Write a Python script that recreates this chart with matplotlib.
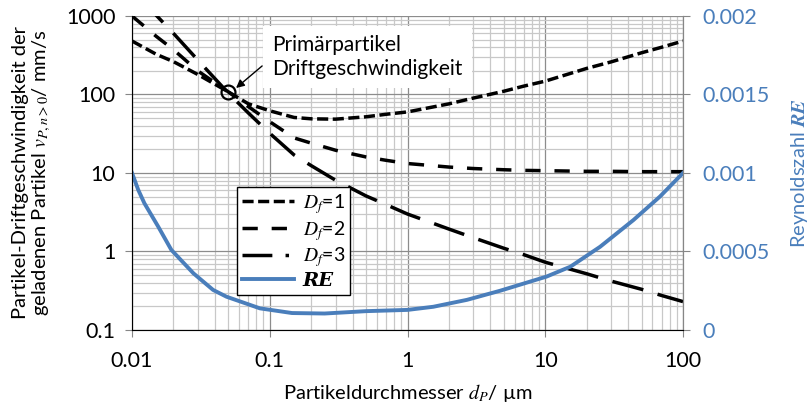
import matplotlib
matplotlib.use("Agg")
import matplotlib.pyplot as plt
from matplotlib.lines import Line2D
from matplotlib.ticker import FixedLocator, LogLocator, FuncFormatter, NullFormatter

plt.rcParams["font.family"] = ["Lato", "DejaVu Sans"]
plt.rcParams["mathtext.fontset"] = "stix"

# Partikeldurchmesser in µm
d_p = [0.01, 0.015, 0.02, 0.03, 0.05, 0.07, 0.1, 0.15, 0.2, 0.3, 0.5, 0.7,
       1, 2, 3, 5, 7, 10, 20, 30, 50, 70, 100]

# Driftgeschwindigkeit in mm/s fuer verschiedene fraktale Dimensionen
v_df1 = [480, 325, 262, 180, 108, 76, 62, 51, 49, 48.5, 52, 56,
         60, 76, 90, 110, 128, 148, 215, 260, 340, 400, 480]
v_df2 = [1000, 550, 372, 200, 108, 70, 45, 28, 24, 19.5, 16, 14.5,
         13.2, 11.9, 11.4, 11.0, 10.8, 10.7, 10.5, 10.5, 10.4, 10.4, 10.4]
v_df3 = [2200, 1020, 600, 275, 104, 58, 32, 17, 12.4, 8.1, 5.1, 3.95,
         3.0, 1.93, 1.5, 1.1, 0.91, 0.73, 0.52, 0.42, 0.33, 0.275, 0.23]

# Reynoldszahl
d_re = [0.01, 0.0111, 0.0123, 0.0155, 0.0193, 0.0279, 0.0388, 0.0485,
        0.0847, 0.145, 0.25, 0.5, 1.0, 1.54, 2.7, 4.7, 10.2, 15.2, 25,
        43.6, 68, 100]
re = [0.001, 0.000892, 0.000807, 0.000658, 0.00051, 0.000361, 0.000255,
      0.000212, 0.000138, 0.000108, 0.000105, 0.00012, 0.000128, 0.000148,
      0.000192, 0.00025, 0.00034, 0.000403, 0.00053, 0.0007, 0.00085,
      0.001]

# Primaerpartikel
d_primary = 0.05
v_primary = 108

x_ticks = [0.01, 0.1, 1, 10, 100]
y_ticks = [0.1, 1, 10, 100, 1000]
re_ticks = [0, 0.0005, 0.001, 0.0015, 0.002]

blue = "#4a7ebb"
grey = "#868686"
fs_tick = 15.5
fs_label = 14.5

fig = plt.figure(figsize=(8.11, 4.07), dpi=100)
ax = fig.add_axes([0.1628, 0.1892, 0.6794, 0.7715])

ax.set_xscale("log")
ax.set_yscale("log")
ax.set_xlim(0.01, 100)
ax.set_ylim(0.1, 1000)

lw = 2.5
l1, = ax.plot(d_p, v_df1, color="black", lw=lw, dashes=(3.2, 1.3),
              label=r"$D_f$=1")
l2, = ax.plot(d_p, v_df2, color="black", lw=lw, dashes=(4.4, 4.0),
              label=r"$D_f$=2")
ax.plot(d_p, v_df3, color="black", lw=lw, dashes=(9.2, 4.3))
# Legendensymbol fuer D_f=3 als Strich-Punkt
l3 = Line2D([], [], color="black", lw=lw, dashes=(8.6, 3.8, 1.0, 2.0),
            label=r"$D_f$=3")
ax.plot([d_primary], [v_primary], marker="o", ms=10, mfc="none",
        mec="black", mew=1.6, zorder=5)

ax.xaxis.set_major_locator(FixedLocator(x_ticks))
ax.yaxis.set_major_locator(FixedLocator(y_ticks))
ax.xaxis.set_minor_locator(LogLocator(base=10, subs=range(2, 10)))
ax.yaxis.set_minor_locator(LogLocator(base=10, subs=range(2, 10)))
ax.xaxis.set_major_formatter(FuncFormatter(lambda v, p: "%g" % v))
ax.yaxis.set_major_formatter(FuncFormatter(lambda v, p: "%g" % v))
ax.xaxis.set_minor_formatter(NullFormatter())
ax.yaxis.set_minor_formatter(NullFormatter())

ax.grid(True, which="major", color="#8c8c8c", lw=0.9)
ax.grid(True, which="minor", color="#c8c8c8", lw=0.9)
ax.set_axisbelow(True)

for s in ["left", "bottom", "right"]:
    ax.spines[s].set_color(grey)
ax.spines["top"].set_visible(False)
ax.tick_params(which="major", direction="out", length=5, color=grey,
               labelsize=fs_tick, pad=7)
ax.tick_params(which="minor", length=0)
ax.tick_params(axis="x", pad=10)

ax.set_xlabel(r"Partikeldurchmesser $d_P$/ µm", fontsize=fs_label,
              labelpad=8)
ax.set_ylabel("Partikel-Driftgeschwindigkeit der\n"
              r"geladenen Partikel $v_{P,n>0}$/ mm/s",
              fontsize=fs_label, labelpad=9, linespacing=1.1)

# Beschriftung der Primaerpartikel-Geschwindigkeit
ax.text(0.104, 300, "Primärpartikel\nDriftgeschwindigkeit",
        fontsize=15, va="center", ha="left", linespacing=1.25, zorder=6,
        bbox=dict(boxstyle="square,pad=0.45", fc="white", ec="none"))
ax.annotate("", xy=(0.0569, 121), xytext=(0.088, 231),
            arrowprops=dict(arrowstyle="-|>", color="black", lw=1.0,
                            mutation_scale=12, shrinkA=0, shrinkB=0),
            zorder=7)

ax2 = ax.twinx()
ax2.set_ylim(0, 0.002)
ax2.yaxis.set_major_locator(FixedLocator(re_ticks))
ax2.yaxis.set_major_formatter(FuncFormatter(lambda v, p: "%g" % v))
l4, = ax2.plot(d_re, re, color=blue, lw=2.8, label="RE")
ax2.tick_params(axis="y", direction="out", length=5, color=grey,
                labelcolor=blue, labelsize=fs_tick, pad=9)
ax2.spines["right"].set_color(grey)
ax2.spines["top"].set_visible(False)
ax2.set_ylabel(r"Reynoldszahl $\mathbfit{RE}$", color=blue,
               fontsize=fs_label, labelpad=14)

leg = ax2.legend(handles=[l1, l2, l3, l4], loc="upper left",
                 bbox_to_anchor=(0.19, 0.455), fontsize=14,
                 frameon=True, fancybox=False, edgecolor="black",
                 framealpha=1, handlelength=2.7, handletextpad=0.45,
                 borderpad=0.25, labelspacing=0.14, borderaxespad=0)
leg.get_frame().set_linewidth(1.0)
re_text = leg.get_texts()[3]
re_text.set_family("DejaVu Serif")
re_text.set_fontweight("bold")
re_text.set_fontstyle("italic")

fig.savefig("out.png", dpi=100)
